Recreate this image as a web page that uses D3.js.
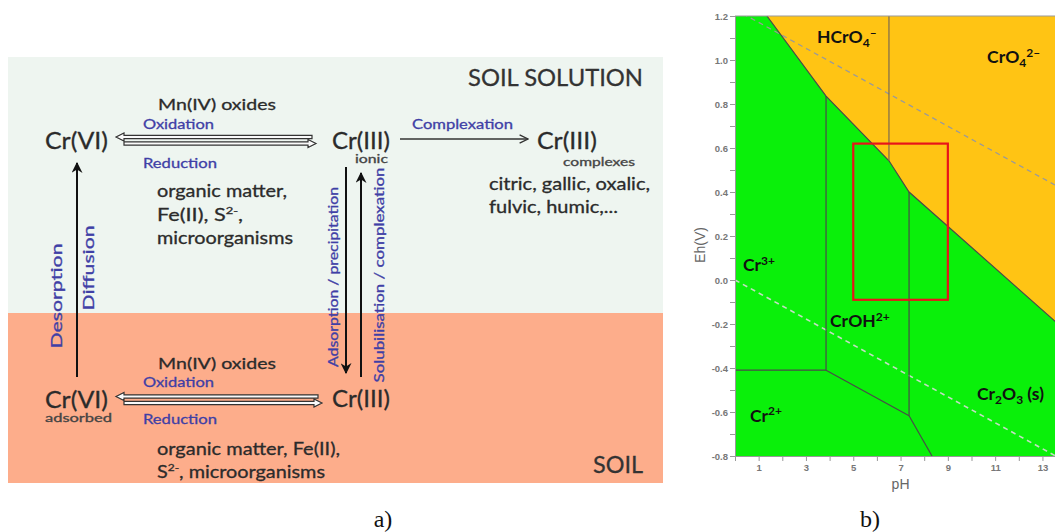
<!DOCTYPE html>
<html>
<head>
<meta charset="utf-8">
<script src="https://cdn.jsdelivr.net/npm/d3@7"></script>
<style>
body { margin: 0; background: #fff; }
svg { display: block; }
</style>
</head>
<body>
<svg id="fig" width="1055" height="532"></svg>
<script>
// ---- panel a: labels ----
var zoneNames = ["SOIL SOLUTION", "SOIL"];
var oxidants = "Mn(IV) oxides";
var reductantsTop = ["organic matter,", "Fe(II), S|2-|,", "microorganisms"];
var reductantsBottom = ["organic matter, Fe(II),", "S|2-|, microorganisms"];
var ligands = ["citric, gallic, oxalic,", "fulvic, humic,..."];
var verticalLabels = ["Desorption", "Diffusion", "Adsorption / precipitation", "Solubilisation / complexation"];

// ---- panel b: Pourbaix diagram of Cr (pH, Eh) ----
var ehTicks = [-0.8, -0.6, -0.4, -0.2, 0, 0.2, 0.4, 0.6, 0.8, 1.0, 1.2];
var ehMinorTicks = [-0.7, -0.5, -0.3, -0.1, 0.1, 0.3, 0.5, 0.7, 0.9, 1.1];
var phTicks = [1, 2, 3, 4, 5, 6, 7, 8, 9, 10, 11, 12, 13, 14];
var cr6Boundary = [[1.35, 1.2], [3.85, 0.836], [6.51, 0.542], [7.36, 0.40], [14, -0.232]];
var boundaryLines = [
	[[6.51, 1.2], [6.51, 0.542]],
	[[3.85, 0.836], [3.85, -0.41]],
	[[7.36, 0.40], [7.36, -0.617]],
	[[0, -0.41], [3.85, -0.41]],
	[[3.85, -0.41], [7.36, -0.617]],
	[[7.36, -0.617], [8.33, -0.8]]
];
var waterUpper = [[0, 1.23], [14, 0.404]];
var waterLower = [[0, 0], [14, -0.826]];
var studyBox = {ph: [5, 9], eh: [-0.09, 0.62]};
var species = [
	{ph: 3.47, eh: 1.077, parts: [["HCrO"], ["4", "sub"], ["–", "sup"]]},
	{ph: 10.66, eh: 0.986, parts: [["CrO"], ["4", "sub"], ["2–", "sup"]]},
	{ph: 0.34, eh: 0.04, parts: [["Cr"], ["3+", "sup"]]},
	{ph: 4.02, eh: -0.214, parts: [["CrOH"], ["2+", "sup"]]},
	{ph: 0.63, eh: -0.645, parts: [["Cr"], ["2+", "sup"]]},
	{ph: 10.23, eh: -0.545, parts: [["Cr"], ["2", "sub"], ["O"], ["3", "sub"], [" (s)"]]}
];

var svg = d3.select("#fig");
var ink = "#2b2b2b", blue = "#3f3fa6", sans = "Lato, 'Open Sans', sans-serif";

svg.append("rect").attr("width", 1055).attr("height", 532).attr("fill", "#fff");

var defs = svg.append("defs");
defs.append("marker").attr("id", "head").attr("viewBox", "0 0 10 10")
	.attr("refX", 9).attr("refY", 5).attr("markerWidth", 5.5).attr("markerHeight", 5.5)
	.attr("orient", "auto").attr("markerUnits", "strokeWidth")
	.append("path").attr("d", "M0,0 L10,5 L0,10 L3,5 z").attr("fill", "#111");
defs.append("marker").attr("id", "chev").attr("viewBox", "0 0 10 10")
	.attr("refX", 9).attr("refY", 5).attr("markerWidth", 7).attr("markerHeight", 7)
	.attr("orient", "auto").attr("markerUnits", "strokeWidth")
	.append("path").attr("d", "M1,1 L9,5 L1,9").attr("fill", "none").attr("stroke", "#333").attr("stroke-width", 1.3);

function fit(t, width) {
	if (width) t.attr("textLength", width).attr("lengthAdjust", "spacingAndGlyphs");
	return t;
}

// text with superscripts written as "a|sup|b"
function richText(g, str, x, y, size, fill, width) {
	var t = g.append("text").attr("x", x).attr("y", y).attr("font-family", sans)
		.attr("font-size", size).attr("fill", fill).attr("stroke", fill).attr("stroke-width", 0.3);
	str.split("|").forEach(function (s, i) {
		if (i % 2 == 1) {
			t.append("tspan").attr("font-size", size * 0.6).attr("dy", -size * 0.4).text(s);
		} else if (i > 0) {
			t.append("tspan").attr("dy", size * 0.4).text(s);
		} else {
			t.append("tspan").text(s);
		}
	});
	return fit(t, width);
}

function label(g, str, x, y, size, fill, width, anchor) {
	var t = g.append("text").attr("x", x).attr("y", y).attr("font-family", sans)
		.attr("font-size", size).attr("fill", fill).attr("stroke", fill).attr("stroke-width", 0.3)
		.attr("text-anchor", anchor || "start").text(str);
	return fit(t, width);
}

// hollow arrow (equilibrium), dir = -1 points left, 1 points right
function hollowArrow(g, x0, x1, c, dir) {
	var tip = dir < 0 ? x0 : x1, back = dir < 0 ? x1 : x0, h = 8 * -dir;
	var p = d3.path();
	p.moveTo(tip, c);
	p.lineTo(tip + h, c - 4);
	p.lineTo(tip + h, c - 1.6);
	p.lineTo(back, c - 1.6);
	p.lineTo(back, c + 1.6);
	p.lineTo(tip + h, c + 1.6);
	p.lineTo(tip + h, c + 4);
	p.closePath();
	g.append("path").attr("d", p.toString()).attr("fill", "#fafafa")
		.attr("stroke", "#333").attr("stroke-width", 1.2);
}

// ================= panel a =================
var a = svg.append("g").attr("class", "panel-a");
a.append("rect").attr("x", 8).attr("y", 57).attr("width", 655).attr("height", 256).attr("fill", "#EEF5F0");
a.append("rect").attr("x", 8).attr("y", 313).attr("width", 655).attr("height", 170).attr("fill", "#FDAD8B");

label(a, zoneNames[0], 643, 86, 24, "#333", 175, "end");
label(a, zoneNames[1], 643, 473, 24, "#333", 50, "end");

// species nodes
label(a, "Cr(VI)", 45, 149, 23, ink, 63);
label(a, "Cr(III)", 332, 149, 23, ink, 58);
label(a, "ionic", 355, 163, 11, "#444", 33);
label(a, "Cr(III)", 537, 149, 23, ink, 60);
label(a, "complexes", 563, 166, 11, "#444", 72);
label(a, "Cr(VI)", 45, 408, 23, ink, 63);
label(a, "adsorbed", 45, 422, 11, "#444", 67);
label(a, "Cr(III)", 332, 407, 23, ink, 58);

// redox, top row
label(a, oxidants, 158, 110, 16, ink, 118);
label(a, "Oxidation", 143, 129, 13.5, blue, 71);
hollowArrow(a, 116, 312, 137, -1);
hollowArrow(a, 124, 316, 143.5, 1);
label(a, "Reduction", 143, 168, 13.5, blue, 74);
var topWidths = [130, 86, 136];
reductantsTop.forEach(function (s, i) {
	richText(a, s, 157, 197 + i * 23.5, 17, ink, topWidths[i]);
});

// redox, bottom row
label(a, oxidants, 158, 369, 16, ink, 118);
label(a, "Oxidation", 143, 386.5, 13.5, blue, 71);
hollowArrow(a, 116, 318, 396.5, -1);
hollowArrow(a, 124, 322, 403, 1);
label(a, "Reduction", 143, 424, 13.5, blue, 74);
var bottomWidths = [183, 168];
reductantsBottom.forEach(function (s, i) {
	richText(a, s, 157, 455 + i * 22.5, 17, ink, bottomWidths[i]);
});

// complexation
a.append("line").attr("x1", 400).attr("x2", 528).attr("y1", 139).attr("y2", 139)
	.attr("stroke", "#333").attr("stroke-width", 1.5).attr("marker-end", "url(#chev)");
label(a, "Complexation", 412, 129, 13.5, blue, 101);
var ligandWidths = [161, 129];
ligands.forEach(function (s, i) {
	label(a, s, 489, 190 + i * 23, 17, ink, ligandWidths[i]);
});

// vertical transfers
a.append("line").attr("x1", 77).attr("x2", 77).attr("y1", 377).attr("y2", 163)
	.attr("stroke", "#111").attr("stroke-width", 2).attr("marker-end", "url(#head)");
a.append("line").attr("x1", 346).attr("x2", 346).attr("y1", 167).attr("y2", 373)
	.attr("stroke", "#111").attr("stroke-width", 2).attr("marker-end", "url(#head)");
a.append("line").attr("x1", 361).attr("x2", 361).attr("y1", 377).attr("y2", 173)
	.attr("stroke", "#111").attr("stroke-width", 2).attr("marker-end", "url(#head)");

// x, y, font size, length
var vPos = [[62, 296, 15.5, 105], [94, 268, 15.5, 85], [338, 277, 13, 180], [384, 275, 13, 215]];
verticalLabels.forEach(function (s, i) {
	var t = a.append("text").attr("transform", "translate(" + vPos[i][0] + "," + vPos[i][1] + ") rotate(-90)")
		.attr("text-anchor", "middle").attr("font-family", sans).attr("font-size", vPos[i][2])
		.attr("fill", blue).attr("stroke", blue).attr("stroke-width", 0.3).text(s);
	fit(t, vPos[i][3]);
});

svg.append("text").attr("x", 383).attr("y", 527).attr("text-anchor", "middle")
	.attr("font-family", "'Liberation Serif', 'DejaVu Serif', serif").attr("font-size", 24)
	.attr("fill", "#111").text("a)");

// ================= panel b =================
var x = d3.scaleLinear().domain([0, 14]).range([735, 735 + 14 * 23.65]);
var y = d3.scaleLinear().domain([-0.8, 1.2]).range([456, 16]);
var line = d3.line().x(function (d) { return x(d[0]); }).y(function (d) { return y(d[1]); });

var b = svg.append("g").attr("class", "panel-b");
defs.append("clipPath").attr("id", "plot").append("rect")
	.attr("x", x(0)).attr("y", y(1.2)).attr("width", 1055 - x(0)).attr("height", y(-0.8) - y(1.2));

var plot = b.append("g").attr("clip-path", "url(#plot)");
plot.append("rect").attr("x", x(0)).attr("y", y(1.2)).attr("width", x(14) - x(0))
	.attr("height", y(-0.8) - y(1.2)).attr("fill", "#0AF00A");
plot.append("path").datum(cr6Boundary.concat([[14, 1.2]]))
	.attr("d", function (d) { return line(d) + "Z"; }).attr("fill", "#FFC414");

plot.append("path").datum(waterUpper).attr("d", line).attr("fill", "none")
	.attr("stroke", "#9a9a9a").attr("stroke-width", 1.3).attr("stroke-dasharray", "5,4");
plot.append("path").datum(waterLower).attr("d", line).attr("fill", "none")
	.attr("stroke", "#c4dcc4").attr("stroke-width", 1.6).attr("stroke-dasharray", "5,4");

plot.append("path").datum(cr6Boundary).attr("d", line).attr("fill", "none")
	.attr("stroke", "#4a4a4a").attr("stroke-width", 1.2);
plot.selectAll(".bound").data(boundaryLines).enter()
	.append("path").attr("class", "bound").attr("d", line).attr("fill", "none")
	.attr("stroke", function (d, i) { return i == 0 ? "#7a6a50" : "#4a4a4a"; })
	.attr("stroke-width", 1.2);

plot.append("rect").attr("x", x(studyBox.ph[0])).attr("y", y(studyBox.eh[1]))
	.attr("width", x(studyBox.ph[1]) - x(studyBox.ph[0]))
	.attr("height", y(studyBox.eh[0]) - y(studyBox.eh[1]))
	.attr("fill", "none").attr("stroke", "#E8141A").attr("stroke-width", 2.2);

species.forEach(function (sp) {
	var t = plot.append("text").attr("x", x(sp.ph)).attr("y", y(sp.eh))
		.attr("font-family", sans).attr("font-weight", "bold").attr("font-size", 17.5).attr("fill", "#111");
	var shift = 0;
	sp.parts.forEach(function (p) {
		var want = p[1] == "sub" ? 4 : (p[1] == "sup" ? -6.5 : 0);
		var ts = t.append("tspan").attr("dy", want - shift).text(p[0]);
		if (p[1]) ts.attr("font-size", 12);
		shift = want;
	});
});

// top frame
b.append("line").attr("x1", x(0)).attr("x2", 1055).attr("y1", y(1.2)).attr("y2", y(1.2))
	.attr("stroke", "#999").attr("stroke-width", 1);

var yAxis = b.append("g").attr("transform", "translate(" + x(0) + ",0)")
	.call(d3.axisLeft(y).tickValues(ehTicks).tickSize(5).tickFormat(function (d) { return d.toFixed(1); }));
b.append("g").attr("transform", "translate(" + x(0) + ",0)")
	.call(d3.axisLeft(y).tickValues(ehMinorTicks).tickSize(5).tickFormat(""))
	.select(".domain").remove();
var xAxis = b.append("g").attr("transform", "translate(0," + y(-0.8) + ")")
	.call(d3.axisBottom(x).tickValues(phTicks).tickSize(5)
		.tickFormat(function (d) { return d % 2 == 1 ? d : ""; }));

b.selectAll(".domain").attr("stroke", "#999");
b.selectAll(".tick line").attr("stroke", "#999");
b.selectAll(".tick text").attr("fill", "#777").attr("font-family", "'Liberation Sans', Arial, sans-serif")
	.attr("font-size", 9.5).attr("font-weight", "bold");
yAxis.selectAll(".tick text").attr("dx", 1);

b.append("text").attr("transform", "translate(705,245) rotate(-90)").attr("text-anchor", "middle")
	.attr("font-family", "'Liberation Sans', Arial, sans-serif").attr("font-size", 14).attr("fill", "#666").text("Eh(V)");
b.append("text").attr("x", x(7)).attr("y", 489).attr("text-anchor", "middle")
	.attr("font-family", "'Liberation Sans', Arial, sans-serif").attr("font-size", 14).attr("fill", "#666").text("pH");

svg.append("text").attr("x", 870).attr("y", 527).attr("text-anchor", "middle")
	.attr("font-family", "'Liberation Serif', 'DejaVu Serif', serif").attr("font-size", 24)
	.attr("fill", "#111").text("b)");
</script>
</body>
</html>
